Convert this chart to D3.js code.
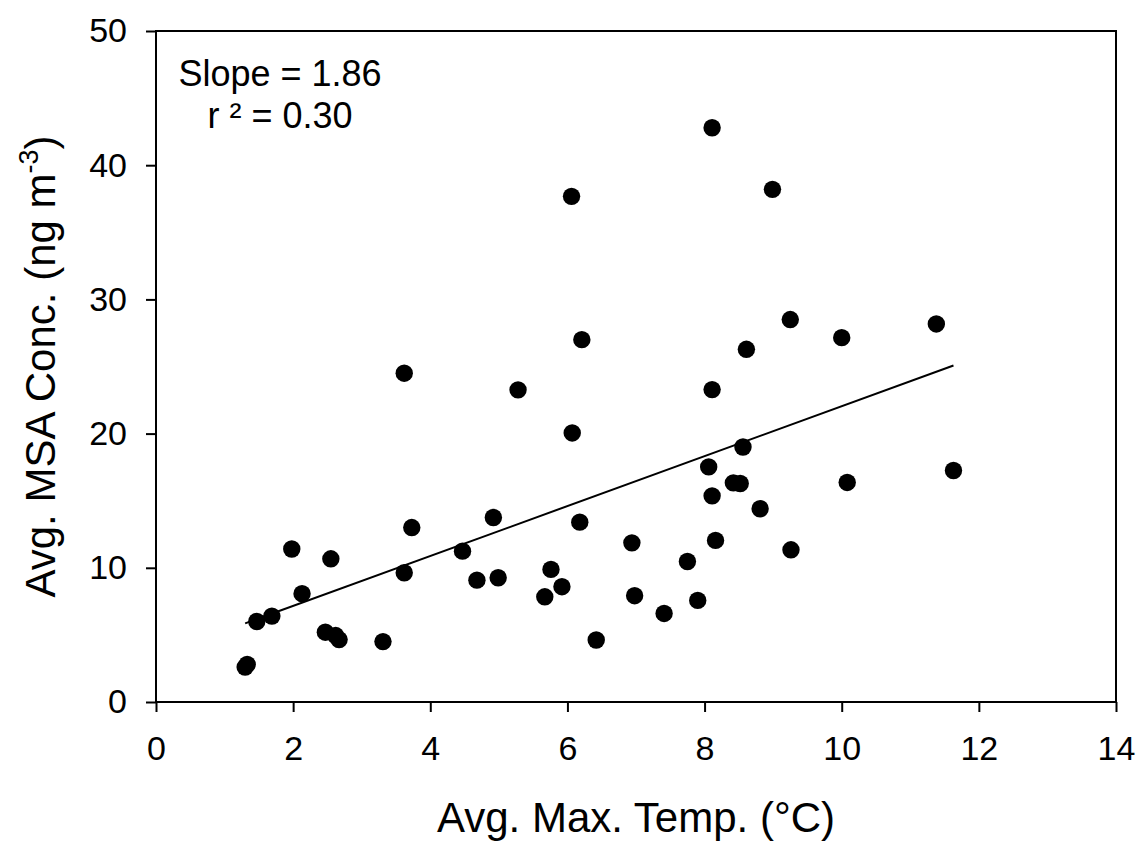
<!DOCTYPE html>
<html>
<head>
<meta charset="utf-8">
<script src="https://cdn.jsdelivr.net/npm/d3@7"></script>
<style>
  body { margin: 0; background: #fff; }
  svg { font-family: "Liberation Sans", Arial, sans-serif; }
</style>
</head>
<body>
<div id="chart"></div>
<script>
// values
var temp = [1.30, 1.33, 1.47, 1.69, 1.98, 2.13, 2.55, 2.47, 2.62, 2.67,
	3.31, 3.62, 3.62, 3.73, 4.47, 4.68, 4.99, 4.92, 5.28, 5.67,
	5.76, 5.92, 6.07, 6.06, 6.21, 6.18, 6.42, 6.94, 6.98, 7.41,
	7.75, 7.90, 8.06, 8.11, 8.16, 8.11, 8.11, 8.61, 8.99, 9.25,
	8.42, 8.52, 8.56, 8.81, 9.26, 10.00, 10.08, 11.38, 11.63];
var msa = [2.6, 2.8, 6.0, 6.4, 11.4, 8.07, 10.67, 5.2, 4.95, 4.65,
	4.5, 9.63, 24.5, 13.0, 11.24, 9.08, 9.26, 13.75, 23.26, 7.84,
	9.88, 8.59, 20.05, 37.68, 27.0, 13.4, 4.62, 11.86, 7.92, 6.6,
	10.47, 7.57, 17.52, 15.36, 12.04, 42.79, 23.28, 26.28, 38.2, 28.5,
	16.33, 16.28, 19.0, 14.4, 11.34, 27.15, 16.36, 28.17, 17.25];
var xTicks = [0, 2, 4, 6, 8, 10, 12, 14];
var yTicks = [0, 10, 20, 30, 40, 50];
var fitSlope = 1.86,
	fitIntercept = 3.44;
var statLines = ["Slope = 1.86", "r \u00b2 = 0.30"];

var width = 1139,
	height = 845;

var svg = d3.select("#chart").append("svg")
	.attr("width", width)
	.attr("height", height);

var x = d3.scaleLinear().domain([0, 14]).range([156, 1116]);
var y = d3.scaleLinear().domain([0, 50]).range([702, 31]);

//
// axes
//
var xAxis = svg.append("g")
	.attr("transform", "translate(0," + y(0) + ")")
	.call(d3.axisBottom(x).tickValues(xTicks).tickSize(10).tickSizeOuter(0).tickPadding(24));
var yAxis = svg.append("g")
	.attr("transform", "translate(" + x(0) + ",0)")
	.call(d3.axisLeft(y).tickValues(yTicks).tickSize(10).tickSizeOuter(0).tickPadding(19));

[xAxis, yAxis].forEach(function(a) {
	a.select(".domain").remove();
	a.selectAll(".tick line").attr("stroke", "#000").attr("stroke-width", 2);
	a.selectAll(".tick text")
		.attr("fill", "#000")
		.style("font-size", "34px")
		.style("font-family", "'Liberation Sans', Arial, sans-serif");
});

// frame
svg.append("rect")
	.attr("x", x(0))
	.attr("y", y(50))
	.attr("width", x(14) - x(0))
	.attr("height", y(0) - y(50))
	.attr("fill", "none")
	.attr("stroke", "#000")
	.attr("stroke-width", 2);

//
// regression line
//
var ext = d3.extent(temp);
svg.append("line")
	.attr("x1", x(ext[0]))
	.attr("y1", y(fitIntercept + fitSlope * ext[0]))
	.attr("x2", x(ext[1]))
	.attr("y2", y(fitIntercept + fitSlope * ext[1]))
	.attr("stroke", "#000")
	.attr("stroke-width", 2);

//
// points
//
svg.append("g").selectAll("circle")
	.data(temp)
	.enter()
	.append("circle")
	.attr("cx", function(d) { return x(d); })
	.attr("cy", function(d, i) { return y(msa[i]); })
	.attr("r", 8.7)
	.attr("fill", "#000");

//
// labels
//
svg.append("g").selectAll("text")
	.data(statLines)
	.enter()
	.append("text")
	.attr("x", 280)
	.attr("y", function(d, i) { return 86 + i * 42; })
	.attr("text-anchor", "middle")
	.style("font-size", "36px")
	.text(function(d) { return d; });

svg.append("text")
	.attr("x", (x(0) + x(14)) / 2)
	.attr("y", 832)
	.attr("text-anchor", "middle")
	.style("font-size", "42px")
	.text("Avg. Max. Temp. (\u00b0C)");

var yTitle = svg.append("text")
	.attr("transform", "translate(55," + (y(0) + y(50)) / 2 + ") rotate(-90)")
	.attr("text-anchor", "middle")
	.style("font-size", "42px");
yTitle.append("tspan").text("Avg. MSA Conc. (ng m");
yTitle.append("tspan").attr("dy", -17).style("font-size", "27px").text("-3");
yTitle.append("tspan").attr("dy", 17).text(")");
</script>
</body>
</html>
